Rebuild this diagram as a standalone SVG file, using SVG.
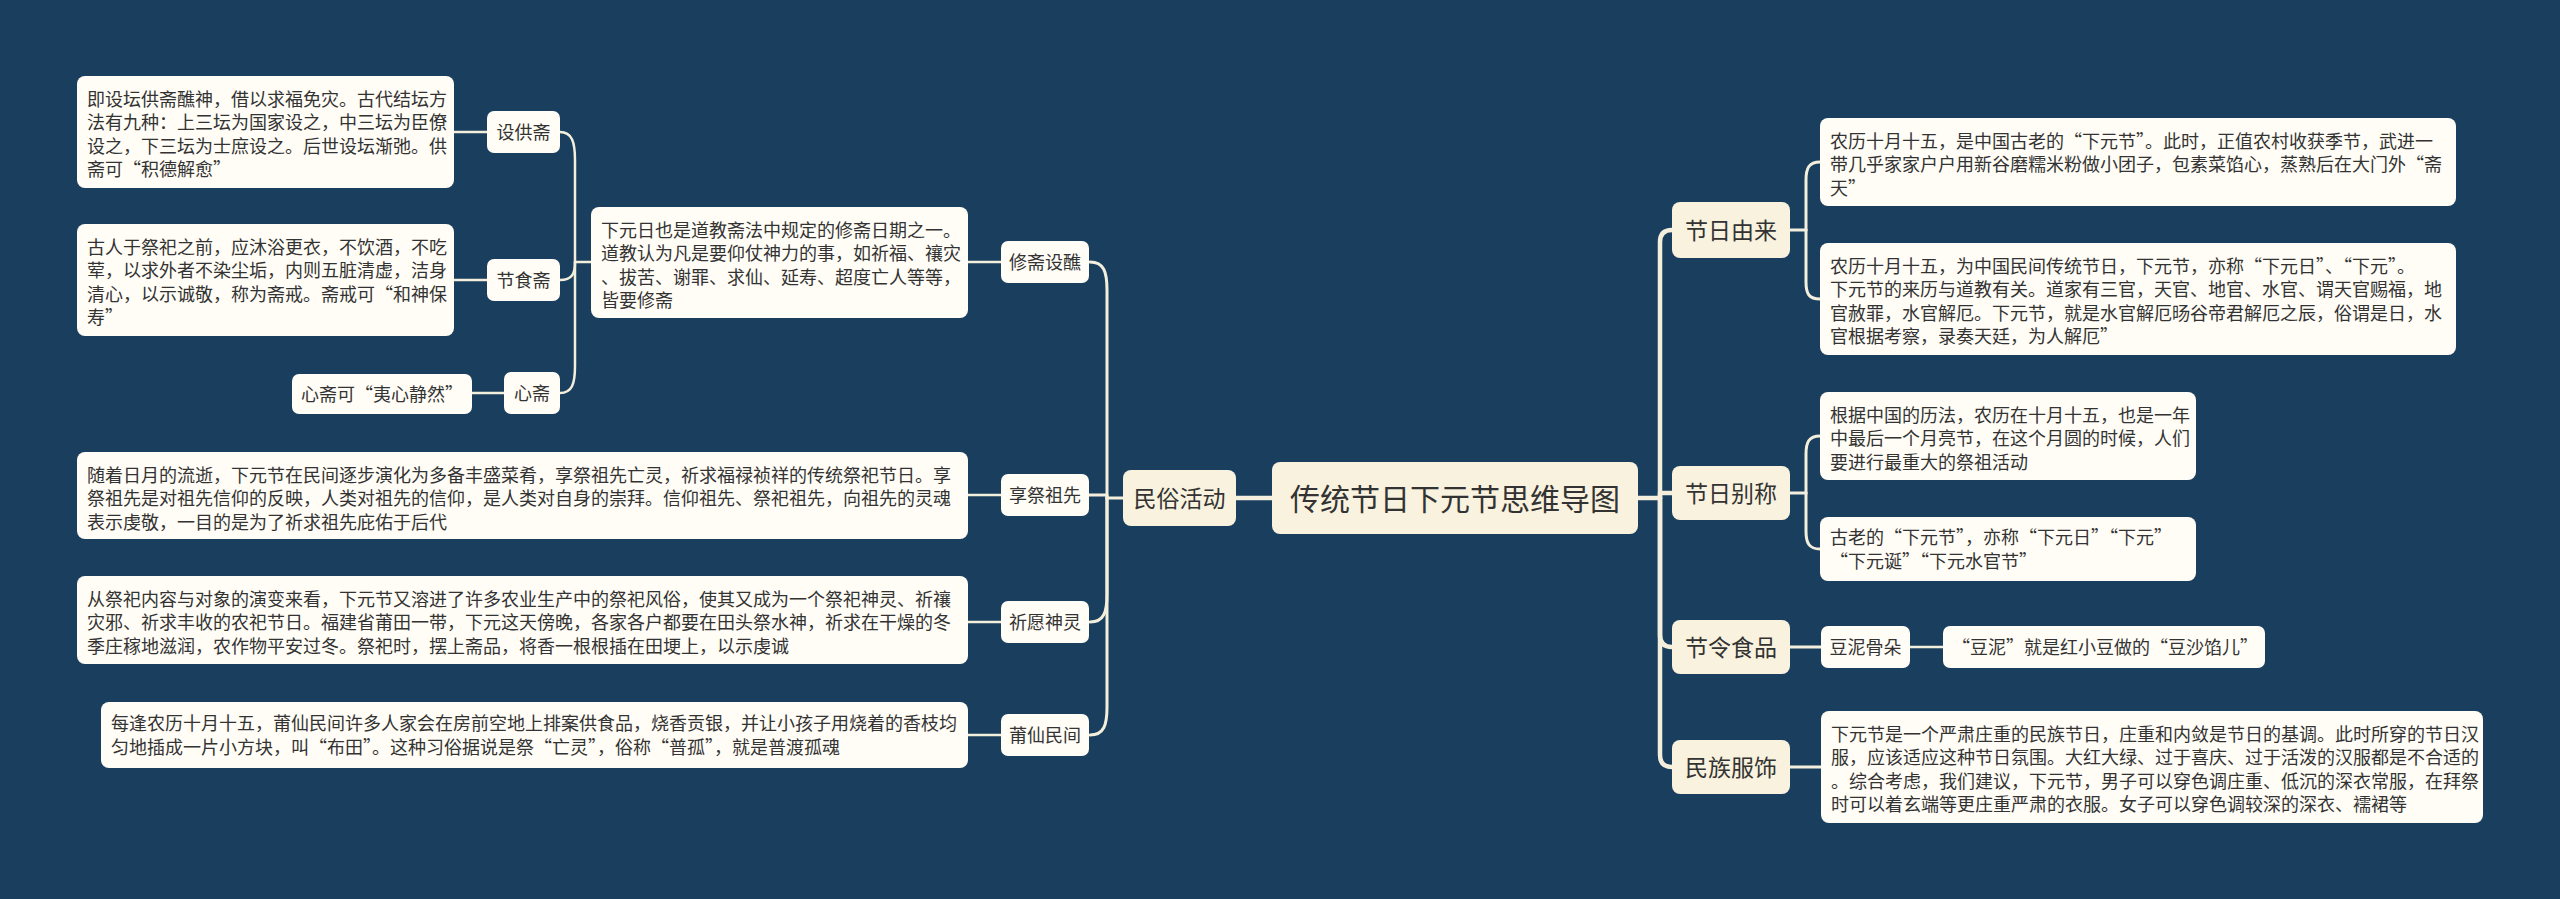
<svg xmlns="http://www.w3.org/2000/svg" width="2560" height="899" viewBox="0 0 2560 899">
<style>
text{font-family:"Noto Sans CJK SC","Liberation Sans",sans-serif;fill:#333333}
.d{font-size:18px}
.n{font-size:18px;text-anchor:middle}
.m{font-size:23px;text-anchor:middle}
.c{font-size:30px;text-anchor:middle}
.box{fill:#fffdf6}
.main{fill:#f8f2de}
.l0{fill:none;stroke:#f4efdd;stroke-width:4.5;stroke-linecap:round;stroke-linejoin:round}
.l1{fill:none;stroke:#f4efdd;stroke-width:3;stroke-linecap:round;stroke-linejoin:round}
.l2{fill:none;stroke:#f4efdd;stroke-width:2.5;stroke-linecap:round;stroke-linejoin:round}
</style>
<rect x="0" y="0" width="2560" height="899" fill="#1a3e5e"/>
<g id="connectors">
<path class="l0" d="M1272,498 H1236"/>
<path class="l0" d="M1638,498 H1660"/>
<path class="l0" d="M1660,498 V242 Q1660,230 1672,230"/>
<path class="l0" d="M1660,498 V493 H1672"/>
<path class="l0" d="M1660,498 V635 Q1660,647 1672,647"/>
<path class="l0" d="M1660,498 V755 Q1660,767 1672,767"/>
<path class="l1" d="M1123,498 H1107"/>
<path class="l1" d="M1107,498 V290 C1107,272 1104,262 1090,262"/>
<path class="l1" d="M1107,498 V495 H1089"/>
<path class="l1" d="M1107,498 V594 C1107,612 1104,622 1090,622"/>
<path class="l1" d="M1107,498 V707 C1107,725 1104,735 1090,735"/>
<path class="l2" d="M1001,262 H968"/>
<path class="l2" d="M1001,495 H968"/>
<path class="l2" d="M1001,622 H968"/>
<path class="l2" d="M1001,735 H968"/>
<path class="l2" d="M591,262 H575"/>
<path class="l2" d="M575,262 V160 C575,142 572,132 560,132"/>
<path class="l2" d="M575,262 C575,274 572,280 560,280"/>
<path class="l2" d="M575,262 V366 C575,384 572,393 560,393"/>
<path class="l2" d="M487,132 H454"/>
<path class="l2" d="M487,280 H454"/>
<path class="l2" d="M504,393 H472"/>
<path class="l1" d="M1790,230 H1806"/>
<path class="l1" d="M1806,230 V180 C1806,168 1809,162 1820,162"/>
<path class="l1" d="M1806,230 V282 C1806,294 1809,299 1820,299"/>
<path class="l1" d="M1790,493 H1806"/>
<path class="l1" d="M1806,493 V454 C1806,442 1809,436 1820,436"/>
<path class="l1" d="M1806,493 V531 C1806,543 1809,549 1820,549"/>
<path class="l1" d="M1790,647 H1821"/>
<path class="l2" d="M1910,647 H1943"/>
<path class="l1" d="M1790,767 H1821"/>
</g>
<g id="center">
<rect class="main" x="1272" y="462" width="366" height="72" rx="8"/>
<text class="c" x="1455" y="509.5">传统节日下元节思维导图</text>
</g>
<g id="minsu">
<rect class="main" x="1123" y="470" width="113" height="56" rx="8"/>
<text class="m" x="1179.5" y="506.8">民俗活动</text>
</g>
<g id="xiuzhai">
<rect class="box" x="1001" y="241" width="88" height="42" rx="7"/>
<text class="n" x="1045" y="268.8">修斋设醮</text>
</g>
<g id="xiuzhai-desc">
<rect class="box" x="591" y="207" width="377" height="111" rx="8"/>
<text class="d" x="601" y="236.5">下元日也是道教斋法中规定的修斋日期之一。</text>
<text class="d" x="601" y="260">道教认为凡是要仰仗神力的事，如祈福、禳灾</text>
<text class="d" x="601" y="283.5">、拔苦、谢罪、求仙、延寿、超度亡人等等，</text>
<text class="d" x="601" y="307">皆要修斋</text>
</g>
<g id="shegong">
<rect class="box" x="487" y="111" width="73" height="42" rx="7"/>
<text class="n" x="523.5" y="138.8">设供斋</text>
</g>
<g id="shegong-desc">
<rect class="box" x="77" y="76" width="377" height="112" rx="8"/>
<text class="d" x="87" y="105.5">即设坛供斋醮神，借以求福免灾。古代结坛方</text>
<text class="d" x="87" y="129">法有九种：上三坛为国家设之，中三坛为臣僚</text>
<text class="d" x="87" y="152.5">设之，下三坛为士庶设之。后世设坛渐弛。供</text>
<text class="d" x="87" y="176">斋可“积德解愈”</text>
</g>
<g id="jieshi">
<rect class="box" x="487" y="259" width="73" height="42" rx="7"/>
<text class="n" x="523.5" y="286.8">节食斋</text>
</g>
<g id="jieshi-desc">
<rect class="box" x="77" y="224" width="377" height="112" rx="8"/>
<text class="d" x="87" y="253.5">古人于祭祀之前，应沐浴更衣，不饮酒，不吃</text>
<text class="d" x="87" y="277">荤，以求外者不染尘垢，内则五脏清虚，洁身</text>
<text class="d" x="87" y="300.5">清心，以示诚敬，称为斋戒。斋戒可“和神保</text>
<text class="d" x="87" y="324">寿”</text>
</g>
<g id="xinzhai">
<rect class="box" x="504" y="372" width="56" height="42" rx="7"/>
<text class="n" x="532" y="399.8">心斋</text>
</g>
<g id="xinzhai-desc">
<rect class="box" x="292" y="374" width="180" height="40" rx="7"/>
<text class="d" x="301" y="400.8">心斋可“夷心静然”</text>
</g>
<g id="xiangji">
<rect class="box" x="1001" y="474" width="88" height="42" rx="7"/>
<text class="n" x="1045" y="501.8">享祭祖先</text>
</g>
<g id="xiangji-desc">
<rect class="box" x="77" y="452" width="891" height="87" rx="8"/>
<text class="d" x="87" y="481.5">随着日月的流逝，下元节在民间逐步演化为多备丰盛菜肴，享祭祖先亡灵，祈求福禄祯祥的传统祭祀节日。享</text>
<text class="d" x="87" y="505">祭祖先是对祖先信仰的反映，人类对祖先的信仰，是人类对自身的崇拜。信仰祖先、祭祀祖先，向祖先的灵魂</text>
<text class="d" x="87" y="528.5">表示虔敬，一目的是为了祈求祖先庇佑于后代</text>
</g>
<g id="qiyuan">
<rect class="box" x="1001" y="601" width="88" height="42" rx="7"/>
<text class="n" x="1045" y="628.8">祈愿神灵</text>
</g>
<g id="qiyuan-desc">
<rect class="box" x="77" y="576" width="891" height="88" rx="8"/>
<text class="d" x="87" y="605.5">从祭祀内容与对象的演变来看，下元节又溶进了许多农业生产中的祭祀风俗，使其又成为一个祭祀神灵、祈禳</text>
<text class="d" x="87" y="629">灾邪、祈求丰收的农祀节日。福建省莆田一带，下元这天傍晚，各家各户都要在田头祭水神，祈求在干燥的冬</text>
<text class="d" x="87" y="652.5">季庄稼地滋润，农作物平安过冬。祭祀时，摆上斋品，将香一根根插在田埂上，以示虔诚</text>
</g>
<g id="puxian">
<rect class="box" x="1001" y="714" width="88" height="42" rx="7"/>
<text class="n" x="1045" y="741.8">莆仙民间</text>
</g>
<g id="puxian-desc">
<rect class="box" x="101" y="702" width="867" height="66" rx="8"/>
<text class="d" x="111" y="730">每逢农历十月十五，莆仙民间许多人家会在房前空地上排案供食品，烧香贡银，并让小孩子用烧着的香枝均</text>
<text class="d" x="111" y="753.5">匀地插成一片小方块，叫“布田”。这种习俗据说是祭“亡灵”，俗称“普孤”，就是普渡孤魂</text>
</g>
<g id="youlai">
<rect class="main" x="1672" y="202" width="118" height="56" rx="8"/>
<text class="m" x="1731" y="238.8">节日由来</text>
</g>
<g id="youlai-desc1">
<rect class="box" x="1820" y="118" width="636" height="88" rx="8"/>
<text class="d" x="1830" y="147.5">农历十月十五，是中国古老的“下元节”。此时，正值农村收获季节，武进一</text>
<text class="d" x="1830" y="171">带几乎家家户户用新谷磨糯米粉做小团子，包素菜馅心，蒸熟后在大门外“斋</text>
<text class="d" x="1830" y="194.5">天”</text>
</g>
<g id="youlai-desc2">
<rect class="box" x="1820" y="243" width="636" height="112" rx="8"/>
<text class="d" x="1830" y="272.5">农历十月十五，为中国民间传统节日，下元节，亦称“下元日”、“下元”。</text>
<text class="d" x="1830" y="296">下元节的来历与道教有关。道家有三官，天官、地官、水官、谓天官赐福，地</text>
<text class="d" x="1830" y="319.5">官赦罪，水官解厄。下元节，就是水官解厄旸谷帝君解厄之辰，俗谓是日，水</text>
<text class="d" x="1830" y="343">官根据考察，录奏天廷，为人解厄”</text>
</g>
<g id="biecheng">
<rect class="main" x="1672" y="466" width="118" height="54" rx="8"/>
<text class="m" x="1731" y="501.8">节日别称</text>
</g>
<g id="biecheng-desc1">
<rect class="box" x="1820" y="392" width="376" height="88" rx="8"/>
<text class="d" x="1830" y="421.5">根据中国的历法，农历在十月十五，也是一年</text>
<text class="d" x="1830" y="445">中最后一个月亮节，在这个月圆的时候，人们</text>
<text class="d" x="1830" y="468.5">要进行最重大的祭祖活动</text>
</g>
<g id="biecheng-desc2">
<rect class="box" x="1820" y="517" width="376" height="64" rx="8"/>
<text class="d" x="1830" y="544">古老的“下元节”，亦称“下元日”“下元”</text>
<text class="d" x="1830" y="567.5">“下元诞”“下元水官节”</text>
</g>
<g id="shiping">
<rect class="main" x="1672" y="620" width="118" height="54" rx="8"/>
<text class="m" x="1731" y="655.8">节令食品</text>
</g>
<g id="douni">
<rect class="box" x="1821" y="626" width="89" height="42" rx="7"/>
<text class="n" x="1865.5" y="653.8">豆泥骨朵</text>
</g>
<g id="douni-desc">
<rect class="box" x="1943" y="626" width="322" height="42" rx="7"/>
<text class="d" x="1952" y="653.8">“豆泥”就是红小豆做的“豆沙馅儿”</text>
</g>
<g id="fushi">
<rect class="main" x="1672" y="740" width="118" height="54" rx="8"/>
<text class="m" x="1731" y="775.8">民族服饰</text>
</g>
<g id="fushi-desc">
<rect class="box" x="1821" y="711" width="662" height="112" rx="8"/>
<text class="d" x="1831" y="740.5">下元节是一个严肃庄重的民族节日，庄重和内敛是节日的基调。此时所穿的节日汉</text>
<text class="d" x="1831" y="764">服，应该适应这种节日氛围。大红大绿、过于喜庆、过于活泼的汉服都是不合适的</text>
<text class="d" x="1831" y="787.5">。综合考虑，我们建议，下元节，男子可以穿色调庄重、低沉的深衣常服，在拜祭</text>
<text class="d" x="1831" y="811">时可以着玄端等更庄重严肃的衣服。女子可以穿色调较深的深衣、襦裙等</text>
</g>
</svg>
